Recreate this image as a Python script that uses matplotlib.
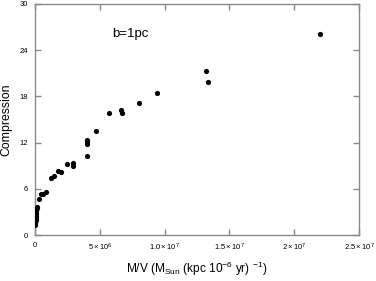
import matplotlib
matplotlib.use('Agg')
import matplotlib.pyplot as plt
from matplotlib.ticker import FixedLocator, FuncFormatter

plt.rcParams['font.family'] = ['Liberation Sans', 'DejaVu Sans']
plt.rcParams['mathtext.fontset'] = 'custom'
plt.rcParams['mathtext.rm'] = 'Liberation Sans'
plt.rcParams['mathtext.it'] = 'Liberation Sans'

# mass / velocity (M_sun per kpc/Myr) vs compression factor
mv = [22.0e6, 13.2e6, 13.35e6, 9.41e6, 8.02e6, 6.61e6, 6.69e6, 5.71e6, 4.73e6,
      4.04e6, 4.04e6, 4.04e6, 4.04e6, 2.90e6, 2.90e6, 2.44e6, 2.00e6, 1.75e6,
      1.49e6, 1.23e6, 0.85e6, 0.64e6, 0.44e6, 0.28e6,
      0.13e6, 0.12e6, 0.10e6, 0.09e6, 0.08e6, 0.07e6, 0.06e6, 0.05e6, 0.05e6,
      0.04e6, 0.03e6, 0.02e6, 0.02e6]
compression = [26.1, 21.3, 19.9, 18.4, 17.1, 16.2, 15.9, 15.8, 13.5,
               12.4, 12.1, 11.8, 10.3, 9.3, 8.9, 9.2, 8.2, 8.35,
               7.66, 7.45, 5.6, 5.3, 5.3, 4.7,
               3.7, 3.5, 3.3, 3.1, 2.9, 2.7, 2.5, 2.3, 2.1,
               1.9, 1.7, 1.5, 1.35]

xticks = [0, 5e6, 1e7, 1.5e7, 2e7, 2.5e7]
xticklabels = ['0', r'$5\times10^{6}$', r'$1.0\times10^{7}$', r'$1.5\times10^{7}$',
               r'$2\times10^{7}$', r'$2.5\times10^{7}$']
yticks = [0, 6, 12, 18, 24, 30]

fig = plt.figure(figsize=(3.76, 2.81), dpi=100)
ax = fig.add_axes([0.0931, 0.1637, 0.8617, 0.8221])

ax.scatter(mv, compression, s=14, color='black', linewidths=0, zorder=3)

ax.set_xlim(0, 2.5e7)
ax.set_ylim(0, 30)
ax.xaxis.set_major_locator(FixedLocator(xticks))
ax.xaxis.set_major_formatter(FuncFormatter(lambda v, p: xticklabels[p] if p is not None and p < len(xticklabels) else ''))
ax.set_yticks(yticks)
ax.set_yticklabels([str(v) for v in yticks])

for s in ax.spines.values():
    s.set_color('#8a8a8a')
    s.set_linewidth(1.0)
ax.tick_params(direction='in', length=4, width=1, color='#8a8a8a',
               labelsize=5.5, top=True, right=True, pad=5)

ax.set_ylabel('Compression', fontsize=8.8, labelpad=5)
ax.set_xlabel(r'M/V (M$_{\mathrm{Sun}}$ (kpc 10$^{\mathrm{-6}}$ yr) $^{\mathrm{-1}}$)',
              fontsize=8.6, labelpad=5)

ax.text(0.237, 0.87, 'b=1pc', transform=ax.transAxes, fontsize=9.5,
        ha='left', va='center')

fig.savefig('out.png', dpi=100)
